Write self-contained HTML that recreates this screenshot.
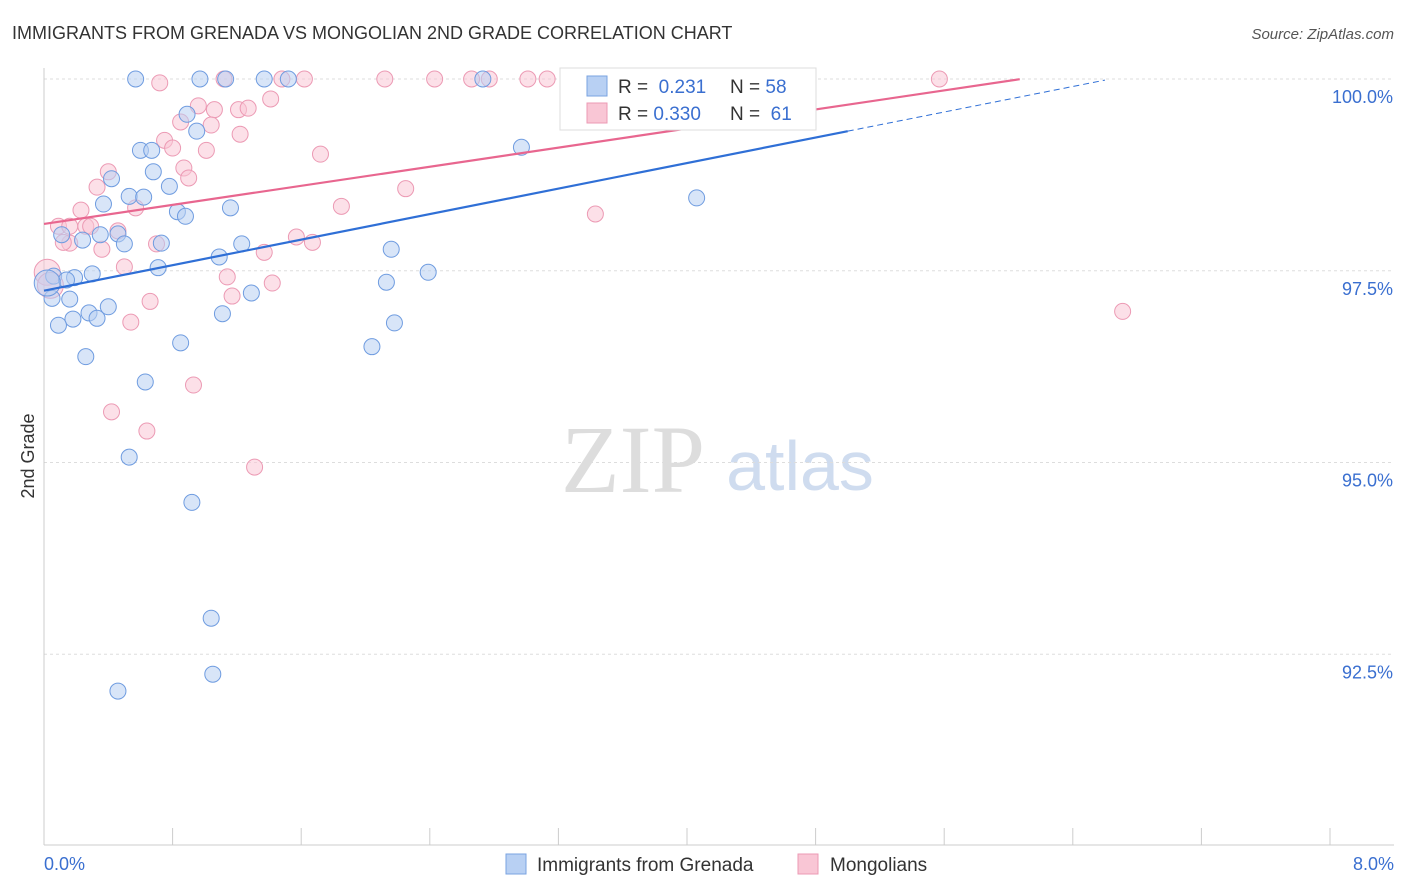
<!DOCTYPE html>
<html><head><meta charset="utf-8"><style>
body{margin:0;background:#fff;font-family:"Liberation Sans",sans-serif}
svg{display:block}
</style></head><body>
<svg id="c" width="1406" height="892" xmlns="http://www.w3.org/2000/svg">
<text x="12" y="39" font-size="18" fill="#333">IMMIGRANTS FROM GRENADA VS MONGOLIAN 2ND GRADE CORRELATION CHART</text>
<text x="1394" y="39" font-size="15" fill="#555" font-style="italic" text-anchor="end">Source: ZipAtlas.com</text>
<text x="34" y="456" font-size="18" fill="#333" text-anchor="middle" transform="rotate(-90 34 456)">2nd Grade</text>
<g><text x="633" y="492" font-size="96" fill="#ddd" font-family="Liberation Serif,serif" text-anchor="middle">ZIP</text><text x="800" y="490" font-size="70" fill="#cfdcef" text-anchor="middle">atlas</text></g>
<g id="grid"></g><g id="axes"></g><g id="pts"></g><g id="lines"></g>
<g>
<rect x="560" y="68" width="256" height="62" fill="#fff" stroke="#ddd"/>
<rect x="587" y="76" width="20" height="20" fill="#b8d0f3" stroke="#7aa3e0"/>
<rect x="587" y="103" width="20" height="20" fill="#f9c6d5" stroke="#ec9ab4"/>
<text x="618" y="93" font-size="19" fill="#333">R = <tspan fill="#3a6fd0">&#160;0.231</tspan><tspan x="730">N = </tspan><tspan fill="#3a6fd0">58</tspan></text>
<text x="618" y="120" font-size="19" fill="#333">R = <tspan fill="#3a6fd0">0.330</tspan><tspan x="730">N = </tspan><tspan fill="#3a6fd0">&#160;61</tspan></text>
</g>
<g>
<rect x="506" y="854" width="20" height="20" fill="#b8d0f3" stroke="#7aa3e0"/>
<text x="537" y="871" font-size="19" fill="#333">Immigrants from Grenada</text>
<rect x="798" y="854" width="20" height="20" fill="#f9c6d5" stroke="#ec9ab4"/>
<text x="830" y="871" font-size="19" fill="#333">Mongolians</text>
</g>
</svg>
<script>
const yTicks=[100,97.5,95,92.5];
const yTickLabels=["100.0%","97.5%","95.0%","92.5%"];
const xLabels=["0.0%","8.0%"];
const blueX=[0.57,0.97,1.13,1.37,1.52,2.73,4.73,0.89,0.95,0.60,0.67,2.97,0.68,0.42,0.78,0.53,0.62,0.37,1.16,0.83,0.88,0.11,0.24,0.35,0.46,0.50,0.73,1.23,2.16,1.09,0.71,0.30,0.19,0.06,0.14,2.39,2.13,1.29,0.05,0.16,0.40,0.28,0.33,0.18,1.11,0.09,2.18,0.85,2.04,0.26,0.63,0.53,0.92,1.04,1.05,0.46,4.06,0.02];
const blueY=[100,100,100,100,100,100,99.75,99.54,99.32,99.07,99.07,99.11,98.79,98.70,98.60,98.47,98.46,98.37,98.32,98.27,98.21,97.97,97.90,97.97,97.98,97.85,97.86,97.85,97.78,97.68,97.54,97.46,97.41,97.43,97.38,97.48,97.35,97.21,97.14,97.13,97.03,96.95,96.88,96.87,96.94,96.79,96.82,96.56,96.51,96.38,96.05,95.07,94.48,92.97,92.24,92.02,98.45,97.34];
const pinkX=[0.72,1.12,1.48,1.62,2.12,2.43,2.66,2.77,3.01,3.13,5.57,0.96,1.06,1.21,1.27,1.41,0.85,1.04,0.75,0.80,1.01,1.72,1.22,0.87,0.90,0.40,0.33,2.25,1.85,0.57,0.23,0.26,0.09,0.16,0.29,3.43,0.46,1.57,0.16,0.70,1.67,0.36,1.37,0.50,1.14,1.42,0.02,1.17,0.66,0.54,0.93,0.42,0.64,1.31,6.71,0.04,0.12];
const pinkY=[99.95,100,100,100,100,100,100,100,100,100,100,99.65,99.60,99.60,99.62,99.74,99.44,99.40,99.20,99.10,99.07,99.02,99.28,98.84,98.71,98.79,98.59,98.57,98.34,98.32,98.29,98.08,98.08,98.08,98.08,98.24,98.02,97.94,97.86,97.85,97.87,97.78,97.74,97.55,97.42,97.34,97.48,97.17,97.10,96.83,96.01,95.66,95.41,94.94,96.97,97.31,97.87];
const blueTrend=[97.24,0.416];
const pinkTrend=[98.11,0.311];
const NS="http://www.w3.org/2000/svg";
const X=v=>44+v/8*1286, Y=v=>79+(100-v)*76.7;
function mk(tag,at,par){const e=document.createElementNS(NS,tag);for(const k in at)e.setAttribute(k,at[k]);document.getElementById(par).appendChild(e);return e;}
yTicks.forEach((t,i)=>{
 const g=mk('line',{x1:44,x2:1394,y1:Y(t),y2:Y(t),stroke:'#ddd','stroke-dasharray':'3 3'},'grid');
 
 
 const l=mk('text',{x:1393,y:Y(t)+24,'font-size':18,fill:'#3a6fd0','text-anchor':'end'},'axes');
 l.textContent=yTickLabels[i];
 
 
});
const ax=mk('line',{x1:44,x2:44,y1:68,y2:845,stroke:'#ccc'},'axes');


const bx=mk('line',{x1:44,x2:1394,y1:845,y2:845,stroke:'#ccc'},'axes');


for(let i=1;i<=10;i++){const t=mk('line',{x1:X(i*0.8),x2:X(i*0.8),y1:828,y2:845,stroke:'#ccc'},'axes');
 
 }
const x0=mk('text',{x:44,y:870,'font-size':18,fill:'#3a6fd0'},'axes');x0.textContent=xLabels[0];


const x1=mk('text',{x:1394,y:870,'font-size':18,fill:'#3a6fd0','text-anchor':'end'},'axes');x1.textContent=xLabels[1];


function pts(xs,ys,fill,stroke,name){xs.forEach((v,i)=>{
 const big=v<0.05;
 const c=mk('circle',{cx:X(v),cy:Y(ys[i]),r:big?13:8,fill:fill,'fill-opacity':0.55,stroke:stroke,'stroke-width':1},'pts');
 
 });}
pts(pinkX,pinkY,'#f9c6d5','#ec9ab4','mongolian-point');
pts(blueX,blueY,'#b8d0f3','#6f9ce0','grenada-point');
function trend(tr,xEnd,xDash,col,name){
 const l=mk('line',{x1:X(0),y1:Y(tr[0]),x2:X(xEnd),y2:Y(tr[0]+tr[1]*xEnd),stroke:col,'stroke-width':2.2},'lines');
 
 
 if(xDash){const d=mk('line',{x1:X(xEnd),y1:Y(tr[0]+tr[1]*xEnd),x2:X(xDash),y2:Y(tr[0]+tr[1]*xDash),stroke:col,'stroke-width':1,'stroke-dasharray':'6 4'},'lines');
 
 }
}
trend(blueTrend,5.0,6.6,'#2f6fd6','grenada-trendline');
trend(pinkTrend,6.07,0,'#e8668f','mongolian-trendline');
</script>
</body></html>
